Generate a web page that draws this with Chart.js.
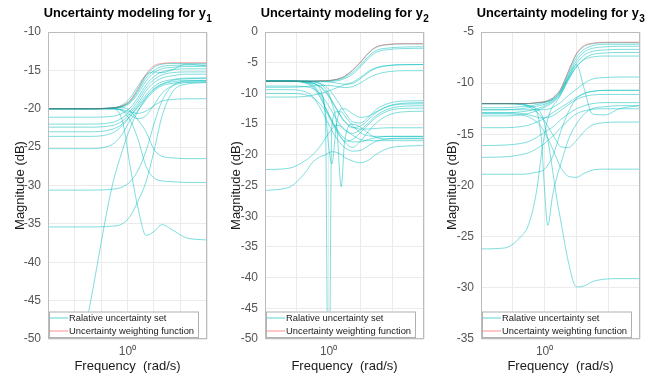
<!DOCTYPE html>
<html>
<head>
<meta charset="utf-8">
<script src="https://cdn.jsdelivr.net/npm/chart.js@4.4.1/dist/chart.umd.min.js"></script>
<style>
  body { margin: 0; background: #fff; }
  #wrap { position: relative; width: 663px; height: 380px; }
  canvas { position: absolute; top: 0; }
</style>
</head>
<body>
<div id="wrap">
  <canvas id="c1" width="220" height="380" style="left:0"></canvas>
  <canvas id="c2" width="220" height="380" style="left:220px"></canvas>
  <canvas id="c3" width="223" height="380" style="left:440px"></canvas>
</div>
<script>
// frequencias (rad/s)
const freqA = [0.2512, 0.5012, 0.7586, 0.9120, 1.0471, 1.2023, 1.3804, 1.5849, 1.8197, 2.1878, 2.7542, 3.9811];
const freqB = [0.3981, 0.5623, 0.7079, 0.7943, 0.8913, 0.9550, 1.0, 1.0471, 1.1220, 1.2023, 1.2589, 1.4125, 1.5849, 1.7783, 1.9953, 2.3988, 2.9512, 3.9811];
const gridA = [0.2512, 0.3981, 0.6310, 1, 1.5849, 2.5119, 3.9811];
const gridB = [0.3981, 0.6310, 1, 1.5849, 2.5119, 3.9811];

// y1
const weightY1 = [-20, -20, -19.9, -19.6, -18.9, -17.3, -15.5, -14.4, -14.1, -14.0, -14.0, -14.0];
const setY1 = [
  [-20, -20, -19.9, -19.65, -19.0, -17.5, -15.7, -14.6, -14.2, -14.1, -14.1, -14.1],
  [-20, -20, -19.9, -19.7, -19.1, -17.7, -16.0, -15.0, -14.5, -14.35, -14.3, -14.3],
  [-20, -20, -19.95, -19.75, -19.25, -18.0, -16.4, -15.3, -14.8, -14.6, -14.5, -14.5],
  [-21.1, -21.1, -21.0, -20.6, -19.9, -18.5, -16.9, -15.8, -15.2, -14.9, -14.8, -14.8],
  [-22.0, -22.0, -21.8, -21.2, -20.3, -18.9, -17.3, -16.2, -15.6, -15.3, -15.2, -15.2],
  [-22.4, -22.4, -22.2, -21.6, -20.6, -19.3, -17.7, -16.6, -16.0, -15.7, -15.5, -15.5],
  [-23.0, -23.0, -22.7, -22.0, -20.9, -19.6, -18.2, -17.1, -16.5, -16.2, -16.0, -16.0],
  [-23.6, -23.6, -23.2, -22.2, -21.0, -19.8, -18.5, -17.4, -16.8, -16.5, -16.3, -16.3],
  [-25.2, -25.2, -24.7, -23.3, -21.5, -20.2, -18.8, -17.7, -17.0, -16.7, -16.5, -16.5],
  [-20, -20, -20, -20.2, -20.8, -21.3, -20.9, -19.5, -18.0, -17.0, -16.6, -16.5],
  [-20, -20, -20, -20.1, -20.4, -20.6, -20.3, -19.6, -19.0, -18.8, -18.7, -18.7],
  [-20, -20, -19.9, -19.8, -20.3, -21.5, -23.0, -25.3, -26.2, -26.4, -26.5, -26.5],
  [-20, -20, -20, -20.3, -21.5, -24.0, -27.5, -29.0, -29.4, -29.5, -29.6, -29.6],
  [-20, -20, -20, -21.5, -27.5, -33.0, -36.5, -36.0, -35.1, -35.8, -36.8, -37.1],
  [-30.6, -30.6, -30.5, -30.2, -29.5, -28.0, -25.5, -22.0, -19.0, -17.0, -16.4, -16.3],
  [-35.4, -35.4, -35.3, -35.0, -34.0, -32.0, -29.5, -25.5, -21.0, -17.8, -16.8, -16.6],
  [-70, -47, -30.4, -25.5, -22.5, -20.3, -18.6, -17.5, -16.8, -16.3, -16.1, -16.0],
  [-20, -20, -19.9, -19.5, -18.6, -17.0, -15.6, -15.2, -15.3, -14.9, -14.2, -14.4]
];

// y2
const weightY2 = [-8, -8, -8, -8, -7.95, -7.93, -7.9, -7.85, -7.7, -7.45, -7.2, -6.2, -4.9, -3.4, -2.4, -2.0, -1.9, -1.9];
const setY2 = [
  [-8, -8, -8, -8, -7.95, -7.93, -7.9, -7.85, -7.72, -7.5, -7.25, -6.3, -5.0, -3.5, -2.5, -2.05, -1.95, -1.95],
  [-8, -8, -8, -8, -8, -8, -7.95, -7.9, -7.8, -7.6, -7.4, -6.6, -5.4, -4.0, -3.0, -2.6, -2.45, -2.4],
  [-8, -8, -8, -8.05, -8.1, -8.1, -8.1, -8.05, -7.95, -7.8, -7.6, -6.9, -5.7, -4.3, -3.3, -2.85, -2.7, -2.65],
  [-8, -8, -8, -8, -8, -8.05, -8.1, -8.2, -8.3, -8.45, -8.5, -8.4, -7.6, -6.6, -5.9, -5.45, -5.3, -5.3],
  [-10.6, -10.6, -10.5, -10.3, -10.0, -9.8, -9.6, -9.4, -9.1, -8.8, -8.6, -8.2, -7.4, -6.4, -5.8, -5.45, -5.35, -5.3],
  [-9.0, -9.0, -8.9, -8.8, -8.7, -8.7, -8.7, -8.75, -8.85, -9.0, -9.05, -8.9, -8.3, -7.5, -6.9, -6.45, -6.3, -6.3],
  [-8, -8, -8.05, -8.1, -8.4, -8.8, -9.3, -9.9, -11.0, -12.2, -13.0, -14.6, -14.8, -13.9, -12.6, -11.6, -11.25, -11.2],
  [-8, -8, -8.1, -8.3, -9.0, -9.8, -10.5, -11.3, -12.6, -13.9, -14.6, -15.6, -15.3, -14.3, -13.1, -12.1, -11.75, -11.7],
  [-8.8, -8.8, -8.9, -9.2, -10.2, -11.2, -12.0, -12.9, -14.2, -15.4, -16.0, -16.5, -15.9, -14.8, -13.6, -12.5, -12.1, -12.0],
  [-8, -8, -8.2, -8.8, -10.5, -12.3, -13.5, -14.7, -16.2, -17.3, -17.8, -17.5, -16.4, -15.1, -13.9, -12.8, -12.45, -12.4],
  [-10.0, -10.0, -10.2, -10.7, -11.8, -12.8, -13.6, -14.5, -15.9, -17.2, -17.9, -18.8, -17.8, -16.2, -14.8, -13.5, -13.0, -12.9],
  [-8, -8, -8.1, -8.3, -8.9, -9.6, -10.3, -11.1, -12.5, -13.8, -14.5, -15.5, -15.8, -15.8, -15.7, -15.6, -15.6, -15.6],
  [-8, -8, -8.3, -9.0, -10.8, -12.3, -13.3, -14.3, -15.7, -16.8, -17.3, -17.9, -17.9, -17.5, -17.2, -17.0, -17.0, -17.0],
  [-9.4, -9.4, -9.7, -10.5, -12.5, -14.0, -15.0, -16.0, -17.3, -18.3, -18.8, -19.4, -19.3, -18.5, -17.8, -17.4, -17.3, -17.3],
  [-22.4, -22.2, -21.0, -20.0, -18.5, -17.3, -16.5, -15.8, -15.2, -15.4, -15.8, -16.8, -17.5, -17.7, -17.7, -17.7, -17.7, -17.7],
  [-25.8, -25.3, -23.0, -21.2, -20.3, -20.0, -19.7, -19.5, -19.6, -20.0, -20.4, -21.0, -21.3, -20.9, -19.9, -18.9, -18.6, -18.5],
  [-8, -8, -8.2, -8.6, -10.0, -14.0, -70, -15.5, -13.0, -13.0, -13.6, -15.2, -16.4, -16.9, -17.0, -17.0, -17.0, -17.0],
  [-8, -8, -8.1, -8.4, -9.5, -13.0, -18.5, -21.5, -15.0, -12.5, -12.5, -13.3, -13.9, -13.7, -13.0, -12.0, -11.6, -11.5],
  [-8, -8, -8, -8.1, -8.5, -9.2, -10.0, -11.5, -15.0, -25.2, -18.0, -15.0, -15.5, -16.5, -17.2, -17.4, -17.4, -17.4]
];

// y3
const weightY3 = [-12, -12, -12, -11.98, -11.9, -11.85, -11.8, -11.7, -11.45, -11.0, -10.6, -8.8, -7.1, -6.3, -6.1, -6.0, -6.0, -6.0];
const setY3 = [
  [-12, -12, -12, -12, -11.92, -11.87, -11.82, -11.72, -11.5, -11.05, -10.65, -8.9, -7.2, -6.4, -6.15, -6.05, -6.05, -6.05],
  [-12.4, -12.4, -12.3, -12.25, -12.1, -12.0, -11.9, -11.8, -11.6, -11.2, -10.8, -9.1, -7.5, -6.7, -6.35, -6.2, -6.2, -6.2],
  [-12.6, -12.6, -12.5, -12.4, -12.25, -12.15, -12.05, -11.95, -11.7, -11.3, -10.9, -9.3, -7.8, -6.95, -6.6, -6.45, -6.4, -6.4],
  [-12.9, -12.9, -12.8, -12.7, -12.5, -12.35, -12.2, -12.05, -11.8, -11.4, -11.0, -9.5, -8.1, -7.25, -6.9, -6.75, -6.7, -6.7],
  [-13.2, -13.2, -13.1, -12.95, -12.7, -12.5, -12.35, -12.2, -11.9, -11.5, -11.1, -9.7, -8.4, -7.6, -7.2, -7.05, -7.0, -7.0],
  [-12, -12, -12, -12, -11.95, -11.9, -11.85, -11.8, -11.6, -11.2, -10.8, -9.4, -8.2, -10.6, -13.0, -13.1, -12.5, -12.2],
  [-12.6, -12.6, -12.6, -12.6, -12.6, -12.6, -12.6, -12.55, -12.4, -12.1, -11.9, -11.2, -10.6, -10.0, -9.6, -9.45, -9.4, -9.4],
  [-14.35, -14.35, -14.25, -14.1, -13.8, -13.6, -13.4, -13.2, -12.9, -12.6, -12.4, -11.9, -11.4, -11.0, -10.8, -10.7, -10.7, -10.7],
  [-12.9, -12.9, -12.95, -13.1, -13.3, -13.4, -13.4, -13.35, -13.2, -12.9, -12.7, -12.1, -11.6, -11.3, -11.15, -11.1, -11.1, -11.1],
  [-16.1, -16.05, -15.9, -15.7, -15.3, -15.0, -14.8, -14.6, -14.3, -13.9, -13.6, -13.0, -12.5, -12.2, -12.0, -11.9, -11.9, -11.9],
  [-17.25, -17.2, -17.0, -16.8, -16.4, -16.1, -15.9, -15.6, -15.2, -14.7, -14.4, -13.6, -13.0, -12.7, -12.55, -12.5, -12.5, -12.5],
  [-12, -12, -12.1, -12.3, -12.8, -13.3, -13.7, -14.2, -15.0, -15.8, -16.2, -16.3, -15.6, -14.7, -14.1, -13.85, -13.8, -13.8],
  [-13.0, -13.0, -13.1, -13.3, -13.8, -14.3, -14.8, -15.4, -16.4, -17.5, -18.2, -19.1, -19.2, -18.8, -18.5, -18.4, -18.4, -18.4],
  [-18.9, -18.9, -18.9, -18.85, -18.7, -18.6, -18.4, -18.0, -17.2, -15.8, -14.8, -12.8, -11.5, -11.0, -10.8, -10.7, -10.7, -10.7],
  [-26.2, -26.1, -25.0, -23.8, -20.5, -17.0, -15.0, -13.5, -12.3, -11.7, -11.2, -9.6, -8.4, -7.7, -7.45, -7.35, -7.35, -7.35],
  [-12, -12, -12, -12.2, -12.8, -15.5, -20.5, -23.9, -21.0, -19.0, -18.0, -15.5, -14.0, -13.0, -12.5, -12.3, -12.2, -12.2],
  [-12, -12, -12.05, -12.2, -12.5, -13.0, -14.0, -15.5, -18.5, -21.6, -23.3, -27.5, -29.9, -29.8, -29.4, -29.15, -29.1, -29.1]
];

const FONT = "'Liberation Sans', Arial, sans-serif";
const CYAN = "rgba(0, 190, 190, 0.5)";
const RED = "rgba(255, 0, 0, 0.35)";

const panels = [
  { id: "c1", sub: "1", freq: freqA, grid: gridA, weight: weightY1, set: setY1, yMin: -50, yMax: -10, axisW: 48, padR: 13, yTitlePad: 13 },
  { id: "c2", sub: "2", freq: freqB, grid: gridB, weight: weightY2, set: setY2, yMin: -50, yMax: 0, axisW: 45, padR: 16, yTitlePad: 9 },
  { id: "c3", sub: "3", freq: freqB, grid: gridB, weight: weightY3, set: setY3, yMin: -35, yMax: -5, axisW: 41, padR: 23, yTitlePad: 5 }
];

// 👉 titulo, caja y leyenda estilo Matlab
const decor = {
  id: "decor",
  afterDatasetsDraw(chart) {
    const ctx = chart.ctx, a = chart.chartArea;
    ctx.save();
    ctx.strokeStyle = "#bcbcbc";
    ctx.lineWidth = 1;
    ctx.strokeRect(a.left + 0.5, a.top + 0.5, a.right - a.left - 1, a.bottom - a.top - 1);

    // leyenda
    const bx = a.left + 1, by = a.bottom - 27.5, bw = 149, bh = 25.5;
    ctx.fillStyle = "#fff";
    ctx.fillRect(bx, by, bw, bh);
    ctx.strokeStyle = "#b0b0b0";
    ctx.strokeRect(bx + 0.5, by + 0.5, bw, bh);
    const ds = chart.data.datasets;
    const rows = [ds[1], ds[0]];
    ctx.font = "9.4px " + FONT;
    ctx.textBaseline = "middle";
    rows.forEach((d, i) => {
      const y = by + 6.5 + i * 13;
      ctx.strokeStyle = d.borderColor;
      ctx.lineWidth = 1.3;
      ctx.beginPath();
      ctx.moveTo(bx + 1, y);
      ctx.lineTo(bx + 19, y);
      ctx.stroke();
      ctx.fillStyle = "#1a1a1a";
      ctx.fillText(d.label, bx + 20, y);
    });

    // titulo con subindice
    const p = chart.options.plugins.decor;
    const cx = (a.left + a.right) / 2;
    ctx.fillStyle = "#000";
    ctx.textBaseline = "alphabetic";
    ctx.font = "bold 12.8px " + FONT;
    const main = "Uncertainty modeling for y";
    const w1 = ctx.measureText(main).width;
    ctx.font = "bold 10px " + FONT;
    const w2 = ctx.measureText(p.sub).width;
    const x0 = cx - (w1 + w2) / 2;
    ctx.font = "bold 12.8px " + FONT;
    ctx.fillText(main, x0, 16.5);
    ctx.font = "bold 10px " + FONT;
    ctx.fillText(p.sub, x0 + w1 + 0.5, 21.5);
    ctx.restore();
  }
};

panels.forEach(p => {
  const datasets = [{
    label: "Uncertainty weighting function",
    data: p.freq.map((f, i) => ({ x: f, y: p.weight[i] })),
    borderColor: RED
  }];
  p.set.forEach(vals => {
    datasets.push({
      label: "Ralative uncertainty set",
      data: p.freq.map((f, i) => ({ x: f, y: vals[i] })),
      borderColor: CYAN
    });
  });

  new Chart(document.getElementById(p.id), {
    type: "line",
    data: { datasets },
    options: {
      responsive: false,
      animation: false,
      devicePixelRatio: 1,
      layout: { padding: { top: 32, right: p.padR, left: 0, bottom: 0 } },
      elements: {
        point: { radius: 0 },
        line: { borderWidth: 1, cubicInterpolationMode: "monotone" }
      },
      plugins: {
        legend: { display: false },
        tooltip: { enabled: false },
        decor: { sub: p.sub }
      },
      scales: {
        x: {
          type: "logarithmic",
          min: p.grid[0],
          max: p.grid[p.grid.length - 1],
          afterBuildTicks: s => { s.ticks = p.grid.map(v => ({ value: v })); },
          afterFit: s => { s.height = 41; },
          grid: { color: "#ebebeb", drawTicks: false },
          border: { display: false },
          ticks: {
            autoSkip: false, maxRotation: 0, padding: 5,
            color: "#555", font: { size: 12, family: FONT },
            callback: v => Math.abs(v - 1) < 1e-6 ? "10⁰" : ""
          },
          title: {
            display: true, text: "Frequency  (rad/s)", color: "#1a1a1a",
            font: { size: 13, family: FONT }, padding: { top: 0, bottom: 5.5 }
          }
        },
        y: {
          min: p.yMin,
          max: p.yMax,
          afterFit: s => { s.width = p.axisW; },
          grid: { color: "#ebebeb", drawTicks: false },
          border: { display: false },
          ticks: { stepSize: 5, padding: 7, color: "#555", font: { size: 12, family: FONT } },
          title: {
            display: true, text: "Magnitude (dB)", color: "#1a1a1a",
            font: { size: 13, family: FONT }, padding: { top: p.yTitlePad, bottom: 0 }
          }
        }
      }
    },
    plugins: [decor]
  });
});
</script>
</body>
</html>
